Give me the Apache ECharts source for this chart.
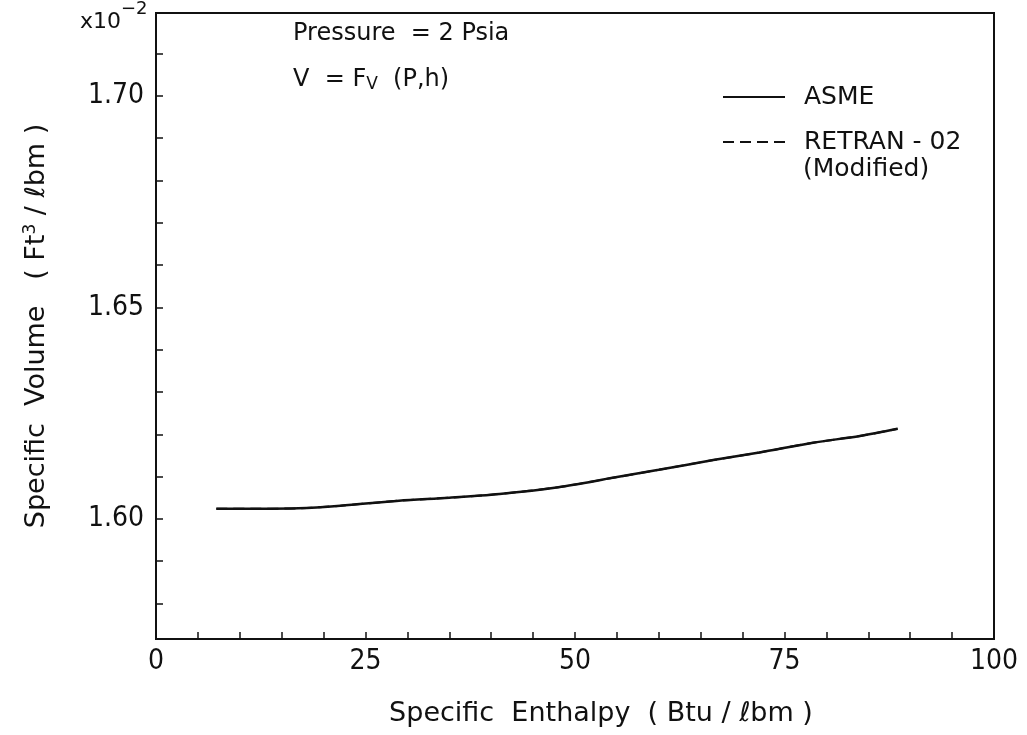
<!DOCTYPE html>
<html>
<head>
<meta charset="utf-8">
<script src="https://cdn.jsdelivr.net/npm/echarts@6/dist/echarts.min.js"></script>
<style>
html,body{margin:0;padding:0;background:#fff;}
#chart{width:1027px;height:735px;}
</style>
</head>
<body>
<div id="chart"></div>
<script>
// enthalpy (Btu/lbm) and specific volume (x10^-2 ft3/lbm)
var enthalpy = [7.2, 12, 17, 22, 29, 35, 41, 48, 54.5, 60, 66.5, 72, 78.4, 84, 88.5];
var asme = [1.6024, 1.6024, 1.6025, 1.6031, 1.6043, 1.6050, 1.6059, 1.6075, 1.6097, 1.6116, 1.6139, 1.6157, 1.6180, 1.6196, 1.6213];
var retran = [1.6024, 1.6024, 1.6025, 1.6031, 1.6043, 1.6050, 1.6059, 1.6075, 1.6097, 1.6116, 1.6139, 1.6157, 1.6180, 1.6196, 1.6213];

var xTicks = [0, 5, 10, 15, 20, 25, 30, 35, 40, 45, 50, 55, 60, 65, 70, 75, 80, 85, 90, 95, 100];
var xLabels = [0, 25, 50, 75, 100];
var yTicks = [1.58, 1.59, 1.60, 1.61, 1.62, 1.63, 1.64, 1.65, 1.66, 1.67, 1.68, 1.69, 1.70, 1.71];
var yLabels = [1.60, 1.65, 1.70];

var numFont = "'Liberation Sans Narrow', 'DejaVu Sans Condensed', 'Liberation Sans', sans-serif";
var font = "'DejaVu Sans', sans-serif";
var ink = '#111';

function pairs(xs, ys) {
    var out = [];
    for (var i = 0; i < xs.length; i++) out.push([xs[i], ys[i]]);
    return out;
}

var chart = echarts.init(document.getElementById('chart'));
var option = {
    backgroundColor: '#fff',
    animation: false,
    grid: {
        left: 156, right: 33, top: 13, bottom: 96,
        show: true, borderColor: ink, borderWidth: 2
    },
    legend: {
        orient: 'vertical',
        left: 717, top: 78,
        itemWidth: 62, itemHeight: 14, itemGap: 17,
        data: ['ASME', 'RETRAN - 02'],
        itemStyle: { opacity: 0 },
        textStyle: { fontFamily: font, fontSize: 25, color: ink, lineHeight: 28, padding: [0, 0, 0, 14] }
    },
    xAxis: {
        type: 'value',
        min: 0, max: 100,
        name: 'Specific  Enthalpy  ( Btu / ℓbm )',
        nameLocation: 'middle',
        nameGap: 61,
        nameTextStyle: { fontFamily: font, fontSize: 27, color: ink, padding: [0, 0, 0, 52] },
        axisLine: { lineStyle: { color: ink, width: 2 } },
        axisTick: { inside: true, length: 7, lineStyle: { color: ink, width: 1.5 }, customValues: xTicks },
        axisLabel: { customValues: xLabels, fontFamily: numFont, fontSize: 28, color: ink, margin: 9 },
        splitLine: { show: false }
    },
    yAxis: {
        type: 'value',
        min: 1.5716, max: 1.7196,
        name: 'Specific  Volume   ( Ft{s|3} / ℓbm )',
        nameLocation: 'middle',
        nameGap: 105,
        nameTextStyle: {
            fontFamily: font, fontSize: 27, color: ink,
            rich: { s: { fontFamily: font, fontSize: 17, color: ink, verticalAlign: 'top', padding: [0, 0, 12, 0] } }
        },
        axisLine: { show: true, lineStyle: { color: ink, width: 2 } },
        axisTick: { show: true, inside: true, length: 7, lineStyle: { color: ink, width: 1.5 }, customValues: yTicks },
        axisLabel: {
            customValues: yLabels, fontFamily: numFont, fontSize: 28, color: ink, margin: 12,
            formatter: function (v) { return v.toFixed(2); }
        },
        splitLine: { show: false }
    },
    graphic: [
        { type: 'text', left: 80, top: 11, style: { text: 'x10', fontFamily: font, fontSize: 22, fill: ink } },
        { type: 'text', left: 121, top: 0, style: { text: '−2', fontFamily: font, fontSize: 18, fill: ink } },
        { type: 'text', left: 293, top: 22, style: { text: 'Pressure  = 2 Psia', fontFamily: font, fontSize: 24, fill: ink } },
        { type: 'text', left: 293, top: 68, style: {
            text: 'V  = F{s|V}  (P,h)', fontFamily: font, fontSize: 24, fill: ink,
            rich: { s: { fontFamily: font, fontSize: 17, fill: ink, padding: [10, 0, 0, 0] } } } },
        { type: 'text', left: 803, top: 157, style: { text: '(Modified)', fontFamily: font, fontSize: 25, fill: ink } }
    ],
    series: [
        {
            name: 'ASME',
            type: 'line',
            data: pairs(enthalpy, asme),
            smooth: 0.3,
            symbol: 'none',
            lineStyle: { color: ink, width: 2.5 },
            itemStyle: { color: ink }
        },
        {
            name: 'RETRAN - 02',
            type: 'line',
            data: pairs(enthalpy, retran),
            smooth: 0.3,
            symbol: 'none',
            lineStyle: { color: ink, width: 2, type: [11, 6] },
            itemStyle: { color: ink }
        }
    ]
};
chart.setOption(option);
</script>
</body>
</html>
